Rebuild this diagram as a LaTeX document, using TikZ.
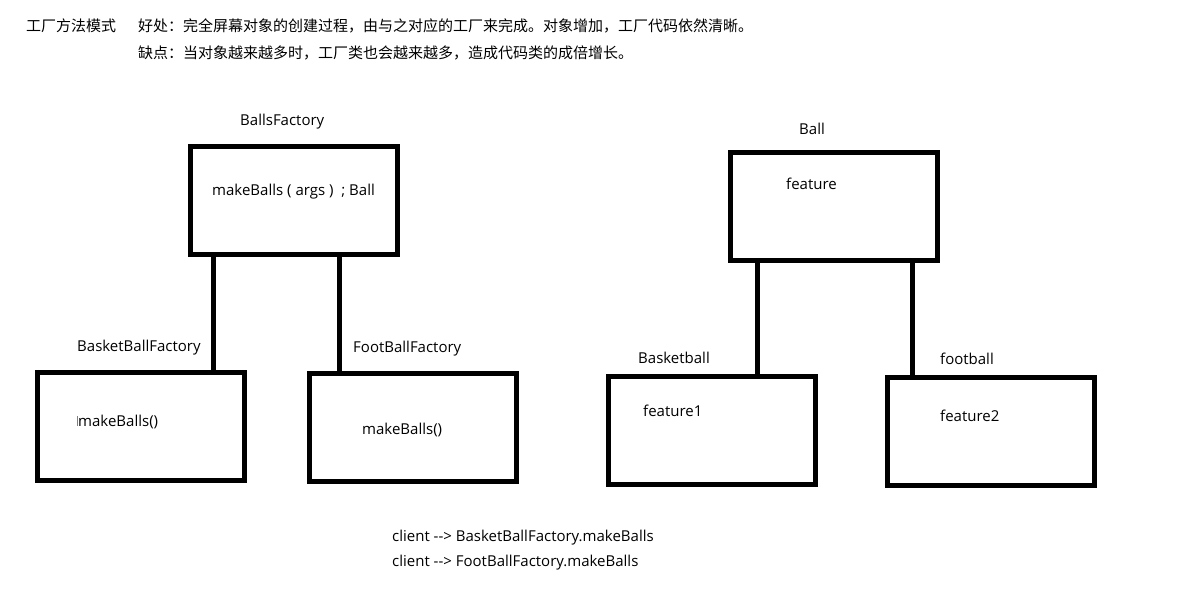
\documentclass[tikz,border=0pt]{standalone}
\usepackage{fontspec}
\setmainfont{Open Sans}
\newfontfamily\cjk{Noto Sans CJK SC}
\usetikzlibrary{calc}

\begin{document}
\begin{tikzpicture}[x=1pt, y=-1pt,
	box/.style={draw, line width=5pt, minimum width=207pt, minimum height=108pt, inner sep=0pt, outer sep=0pt},
	link/.style={line width=5pt},
	txt/.style={anchor=base west, inner sep=0pt, font=\fontsize{15pt}{18pt}\selectfont},
	cjktxt/.style={txt, font=\cjk\fontsize{15pt}{18pt}\selectfont}]

\useasboundingbox (0,0) rectangle (1200,600);

	% header
	\node[cjktxt] (title) at (26, 31) {工厂方法模式};
	\node[cjktxt] (pro) at (138, 31) {好处：完全屏幕对象的创建过程，由与之对应的工厂来完成。对象增加，工厂代码依然清晰。};
	\node[cjktxt] (con) at (138, 58) {缺点：当对象越来越多时，工厂类也会越来越多，造成代码类的成倍增长。};

	% factories
	\node[box] (factory) at (294, 200.5) {};
	\node[box] (basketFactory) at (141, 426) {};
	\node[box] (footFactory) at (412.5, 427.5) {};

	\node[txt] (factoryName) at (240, 125) {BallsFactory};
	\node[txt] (factoryOp) at (212, 195) {makeBalls ( args )~ ; Ball};
	\node[txt] (basketFactoryName) at (77, 351) {BasketBallFactory};
	\node[txt] (basketFactoryOp) at (78, 426) {makeBalls()};
	\node[txt] (footFactoryName) at (353, 352) {FootBallFactory};
	\node[txt] (footFactoryOp) at (362, 434) {makeBalls()};

	\draw[orange!85!black, line width=1pt] ([xshift=-1pt]basketFactoryOp.base west) -- ++(0,-10);

	\coordinate (bfTop) at ([xshift=72pt]basketFactory.north);
	\coordinate (ffTop) at ([xshift=-73.5pt]footFactory.north);
	\draw[link] (bfTop) -- (bfTop |- factory.south);
	\draw[link] (ffTop) -- (ffTop |- factory.south);

	% products
	\node[box] (ball) at (833.5, 206.5) {};
	\node[box] (basketball) at (711.5, 430) {};
	\node[box] (football) at (990.5, 431.5) {};

	\node[txt] (ballName) at (799, 134) {Ball};
	\node[txt] (ballAttr) at (786, 189) {feature};
	\node[txt] (basketballName) at (638, 363) {Basketball};
	\node[txt] (basketballAttr) at (643, 416) {feature1};
	\node[txt] (footballName) at (940, 364) {football};
	\node[txt] (footballAttr) at (940, 421) {feature2};

	\coordinate (bbTop) at ([xshift=45.5pt]basketball.north);
	\coordinate (fbTop) at ([xshift=-78.5pt]football.north);
	\draw[link] (bbTop) -- (bbTop |- ball.south);
	\draw[link] (fbTop) -- (fbTop |- ball.south);

	% client calls
	\node[txt] (callBasket) at (392, 541) {client -{}-> BasketBallFactory.makeBalls};
	\node[txt] (callFoot) at (392, 566) {client -{}-> FootBallFactory.makeBalls};
\end{tikzpicture}
\end{document}
